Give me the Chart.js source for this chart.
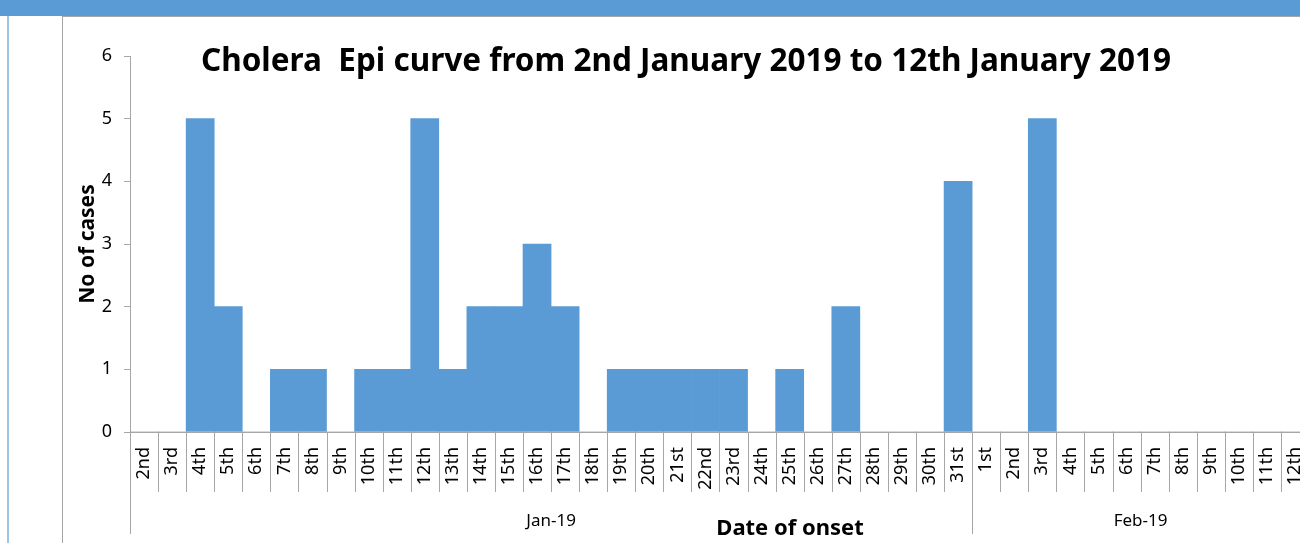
<!DOCTYPE html>
<html>
<head>
<meta charset="utf-8">
<script src="https://cdn.jsdelivr.net/npm/chart.js@4.4.1/dist/chart.umd.min.js"></script>
<style>
  html { overflow: hidden; }
  html, body { margin: 0; padding: 0; background: #fff; }
  body { width: 1320px; height: 543px; position: relative; }
  #band  { position: absolute; left: 0; top: 0; width: 1320px; height: 16px; background: #5b9bd5; z-index: 2; }
  #edgeL { position: absolute; left: 7px; top: 16px; width: 2px; height: 527px; background: #9dc3e6; z-index: 2; }
  #frameV { position: absolute; left: 62px; top: 16px; width: 1px; height: 527px; background: #a6a6a6; z-index: 2; }
  #frameH { position: absolute; left: 62px; top: 16px; width: 1258px; height: 1px; background: #a6a6a6; z-index: 2; }
  #wrap { position: absolute; left: 0; top: 0; width: 1320px; height: 543px; }
  #epi { width: 1320px; height: 543px; display: block; }
</style>
</head>
<body>
<div id="band"></div>
<div id="edgeL"></div>
<div id="frameV"></div>
<div id="frameH"></div>
<div id="wrap"><canvas id="epi" width="1320" height="543"></canvas></div>
<script>
/* ── Data ─────────────────────────────────── */
const janDays  = ['2nd','3rd','4th','5th','6th','7th','8th','9th','10th','11th','12th','13th','14th','15th','16th','17th','18th','19th','20th','21st','22nd','23rd','24th','25th','26th','27th','28th','29th','30th','31st'];
const febDays  = ['1st','2nd','3rd','4th','5th','6th','7th','8th','9th','10th','11th','12th'];
const janCases = [0,0,5,2,0,1,1,0,1,1,5,1,2,2,3,2,0,1,1,1,1,1,0,1,0,2,0,0,0,4];
const febCases = [0,0,5,0,0,0,0,0,0,0,0,0];
const monthLabels = ['Jan-19', 'Feb-19'];
const yTicks = [0, 1, 2, 3, 4, 5, 6];

const labels = janDays.concat(febDays);
const cases  = janCases.concat(febCases);

const TITLE   = 'Cholera  Epi curve from 2nd January 2019 to 12th January 2019';
const X_TITLE = 'Date of onset';
const FONT    = '"Noto Sans", "Open Sans", sans-serif';
const AXIS_GREY = '#a6a6a6';

/* ── Decorations: title, category separators, month groups ── */
const epiDecor = {
  id: 'epiDecor',
  afterDraw(chart) {
    const { ctx, chartArea } = chart;
    const x = chart.scales.x;
    const y0 = chartArea.bottom;
    const half = (x.getPixelForValue(1) - x.getPixelForValue(0)) / 2;

    ctx.save();
    ctx.strokeStyle = AXIS_GREY;
    ctx.lineWidth = 1;
    for (let i = 0; i <= labels.length; i++) {
      const px = Math.round(x.getPixelForValue(i) - half) + 0.5;
      const isGroup = i === 0 || i === janDays.length;
      ctx.beginPath();
      ctx.moveTo(px, y0);
      ctx.lineTo(px, isGroup ? y0 + 102 : y0 + 60);
      ctx.stroke();
    }

    // month labels centred under their groups
    ctx.fillStyle = '#000';
    ctx.font = '17px ' + FONT;
    ctx.textAlign = 'center';
    ctx.textBaseline = 'middle';
    const janL = x.getPixelForValue(0) - half;
    const janR = x.getPixelForValue(janDays.length) - half;
    const febR = x.getPixelForValue(labels.length) - half;
    ctx.fillText(monthLabels[0], (janL + janR) / 2, y0 + 89);
    ctx.fillText(monthLabels[1], (janR + febR) / 2, y0 + 89);

    // x-axis title (sits right of centre in the original)
    ctx.font = 'bold 22px ' + FONT;
    ctx.fillText(X_TITLE, 790, 529);

    // chart title, over the plot area
    ctx.font = 'bold 31.5px ' + FONT;
    ctx.fillText(TITLE, 686, 62);
    ctx.restore();
  }
};

new Chart(document.getElementById('epi'), {
  type: 'bar',
  data: {
    labels,
    datasets: [{
      label: 'No of cases',
      data: cases,
      backgroundColor: '#5b9bd5',
      borderWidth: 0,
      barPercentage: 1,
      categoryPercentage: 1,
    }],
  },
  options: {
    responsive: false,
    animation: false,
    devicePixelRatio: 1,
    layout: { padding: { left: 75, top: 56, right: 11, bottom: 0 } },
    plugins: { legend: { display: false }, tooltip: { enabled: false }, title: { display: false } },
    scales: {
      x: {
        // drop the overhang padding for rotated labels so each day keeps its width
        afterFit: s => { s.height = 111; s.paddingLeft = 0; s.paddingRight = 0; },
        grid: { display: false, drawTicks: false },
        border: { display: true, color: AXIS_GREY },
        ticks: {
          autoSkip: false, minRotation: 90, maxRotation: 90,
          padding: 15, color: '#000',
          font: { family: FONT, size: 18 },
        },
      },
      y: {
        min: yTicks[0], max: yTicks[yTicks.length - 1],
        afterFit: s => { s.width = 55; },
        grid: { drawOnChartArea: false, tickLength: 6, color: AXIS_GREY },
        border: { color: AXIS_GREY },
        ticks: {
          stepSize: 1, padding: 12, color: '#000',
          font: { family: FONT, size: 18 },
        },
        title: {
          display: true, text: 'No of cases', color: '#000',
          font: { family: FONT, size: 21, weight: 'bold' },
          padding: { top: 0, bottom: 0 },
        },
      },
    },
  },
  plugins: [epiDecor],
});
</script>
</body>
</html>
